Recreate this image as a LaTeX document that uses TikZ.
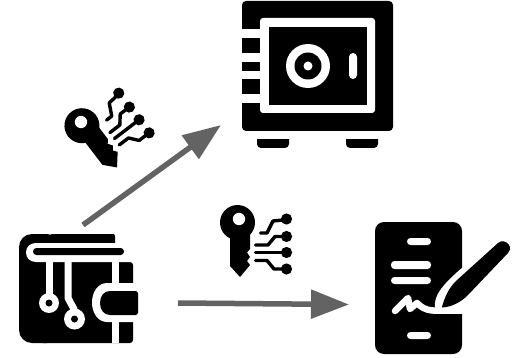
\documentclass[tikz,border=0pt]{standalone}
\usetikzlibrary{arrows.meta}
\definecolor{arrowgray}{HTML}{636363}
\tikzset{
  flow/.style={draw=arrowgray,line width=5.5pt,-{Triangle[length=38pt,width=28pt,fill=arrowgray]}},
  blackfill/.style={fill=black,draw=none},
  whitefill/.style={fill=white,draw=none},
  wline/.style={draw=white,line cap=round,line join=round},
  trace/.style={draw=black,line width=3.4pt,line join=round,line cap=round},
  keyicon/.pic={
    % local coordinates: origin at the key's hole
    \fill[black] (-9,13) -- (-9,47) -- (1,58) -- (11,46) -- (8,42) -- (11,38) -- (8,33.5) -- (11,30) -- (11,13) -- cycle;
    \fill[black] (-1.5,3.5) circle (17.5);
    \fill[white] (0,0) circle (6.2);
    \draw[trace] (21.5,14) -- (28,14) -- (34,2) -- (44,1);
    \fill[black] (47.5,0) circle (5.6);
    \draw[trace] (16.5,26) -- (29,26) -- (36,17.5) -- (44,17.5);
    \fill[black] (47.5,17.5) circle (5.6);
    \draw[trace] (16.5,33.5) -- (44,33.5);
    \fill[black] (47.5,33.5) circle (5.6);
    \draw[trace] (16.5,41.5) -- (28,41.5) -- (35,50) -- (44,50);
    \fill[black] (47.5,50) circle (5.6);
  }
}
\begin{document}
\begin{tikzpicture}[x=1pt,y=-1pt]
\useasboundingbox (0,0) rectangle (516,358);
\fill[white] (0,0) rectangle (516,358);

% ---------- safe ----------
\coordinate (safe) at (317,66);
\fill[blackfill,rounded corners=4pt] (242,1) rectangle (393,131);
\fill[whitefill,rounded corners=3pt] (260,18) rectangle (375,113);
\fill[blackfill] (268.5,27) rectangle (367,105);
\fill[whitefill] (242,29) rectangle (261,38);
\fill[whitefill] (242,53) rectangle (261,62);
\fill[whitefill] (242,71) rectangle (261,79);
\fill[whitefill] (242,94) rectangle (261,103);
\fill[whitefill] (308,66) circle (22);
\fill[blackfill] (308,66) circle (13.5);
\fill[whitefill] (308,66) circle (4.5);
\fill[whitefill,rounded corners=4pt] (349,53) rectangle (357,79);
\fill[blackfill,rounded corners=4pt] (257,130) -- (289,130) -- (289,148) -- (257,148) -- cycle;
\fill[blackfill,rounded corners=4pt] (346,130) -- (378,130) -- (378,148) -- (346,148) -- cycle;
\fill[whitefill] (250,131) rectangle (385,139);

% ---------- wallet ----------
\coordinate (wallet) at (76,288);
% outer back: top band and left side
\fill[blackfill,rounded corners=13pt] (60,343) -- (19,343) -- (19,234) -- (60,234) -- cycle;
\fill[blackfill,rounded corners=2pt] (50,234) -- (115,234) -- (115,250) -- (50,250) -- cycle;
\fill[blackfill,rounded corners=3pt] (40,262) -- (133,262) -- (133,343) -- (40,343) -- cycle;
% white band with rounded left end
\fill[whitefill] (36,243) -- (140,243) -- (140,262) -- (36,262) .. controls (30,262) and (26,258) .. (26,252.5) .. controls (26,247) and (30,243) .. (36,243) -- cycle;
\fill[blackfill,rounded corners=3.4pt] (33,248) rectangle (124,255);
% vertical strip
\fill[whitefill] (112,262) rectangle (119,343);
% clasp
\fill[whitefill] (107,283) -- (140,283) -- (140,322) -- (107,322) .. controls (98,322) and (92,313) .. (92,302.5) .. controls (92,292) and (98,283) .. (107,283) -- cycle;
\fill[blackfill] (110,291) .. controls (104,291) and (100,296) .. (100,303) .. controls (100,310) and (104,315) .. (110,315) -- (136,315) -- (138,313) -- (138,293) -- (136,291) -- cycle;
% circuit traces
\fill[whitefill] (46,262) rectangle (53,295);
\fill[whitefill] (49,303) circle (10);
\fill[blackfill] (49,303) circle (3.5);
\draw[white,line width=7pt,line join=round] (68,262) -- (68,298) -- (74.5,310);
\fill[whitefill] (74.5,319) circle (10.5);
\fill[blackfill] (74.5,319) circle (3.5);

% ---------- document ----------
\coordinate (doc) at (418,288);
\fill[blackfill,rounded corners=9pt] (375,222) rectangle (462,354);
\fill[whitefill,rounded corners=3.5pt] (407,238) rectangle (431,245);
\fill[whitefill,rounded corners=3.5pt] (391,261) rectangle (431,269);
\fill[whitefill,rounded corners=3.5pt] (391,277) rectangle (431,284);
\fill[whitefill,rounded corners=3.5pt] (407,332) rectangle (431,339);
% signature
\draw[wline,line width=6.5pt] (395,311) -- (408,298) -- (410,309) -- (417,303) .. controls (421,307) and (425,310) .. (433,310.5) -- (464,310.5);
% white halo round the pen
\fill[whitefill] (435,308) .. controls (433,296) and (443,284) .. (463,267) -- (463,313) -- (438,313) -- cycle;
% pen
\fill[blackfill] (442,307) .. controls (445,296) and (449,288) .. (456,281) -- (498,243) .. controls (502,240) and (506,241) .. (509,245) .. controls (511,248) and (510,251) .. (508,253) -- (468,295) .. controls (461,302) and (452,307) .. (442,307.5) -- cycle;

% ---------- keys ----------
\coordinate (keyA) at (81,122);
\coordinate (keyB) at (239,219);
\pic at (keyA) [rotate=37.4] {keyicon};
\pic at (keyB) {keyicon};

% ---------- arrows ----------
\coordinate (arrowAstart) at (83,225);
\coordinate (arrowAend) at (221,125);
\coordinate (arrowBstart) at (178,303);
\coordinate (arrowBend) at (349,304.5);
\draw[flow] (arrowAstart) -- (arrowAend);
\draw[flow] (arrowBstart) -- (arrowBend);
\end{tikzpicture}
\end{document}
